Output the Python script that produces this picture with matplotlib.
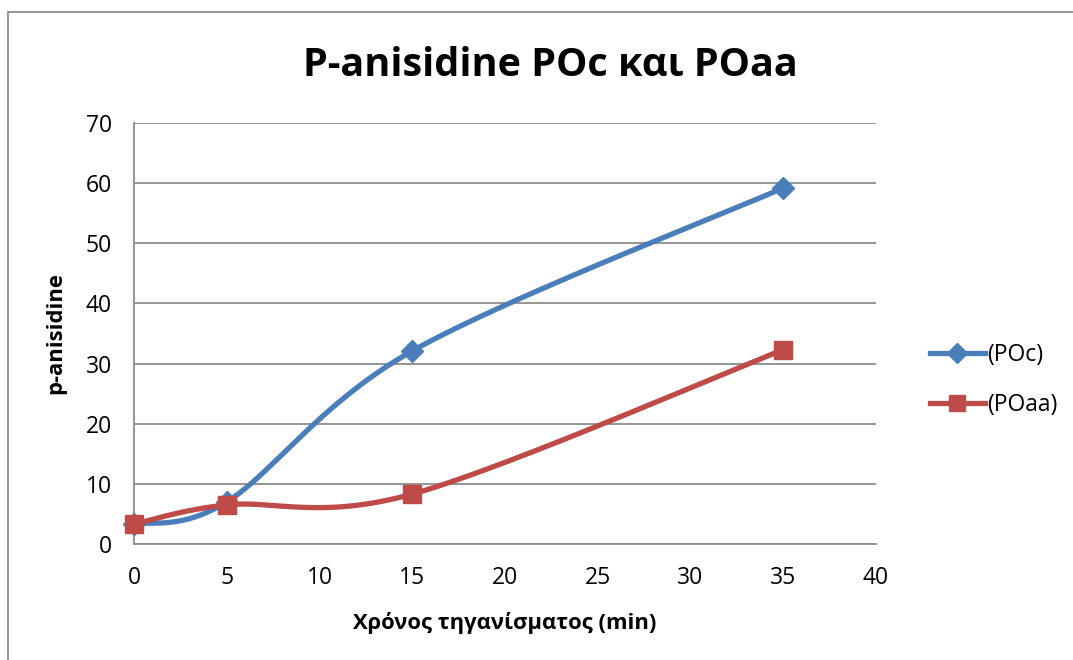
import numpy as np
import matplotlib
matplotlib.use("Agg")
import matplotlib.pyplot as plt
from matplotlib.patches import Rectangle
from matplotlib.lines import Line2D

plt.rcParams['font.family'] = ['Open Sans', 'DejaVu Sans']

# Frying time (min) and p-anisidine values
time_min = [0, 5, 15, 35]
poc = [3.3, 7.0, 32.1, 59.2]
poaa = [3.3, 6.5, 8.3, 32.3]

title = "P-anisidine POc και POaa"
xlabel = "Χρόνος τηγανίσματος (min)"
ylabel = "p-anisidine"
series_names = ["(POc)", "(POaa)"]
x_ticks = [0, 5, 10, 15, 20, 25, 30, 35, 40]
y_ticks = [0, 10, 20, 30, 40, 50, 60, 70]

BLUE = "#4a7ebb"
RED = "#be4b48"


def smooth_curve(ax, xs, ys, n=60):
    """Spreadsheet-style smoothed line: cubic Bezier segments with
    Catmull-Rom control points computed in display space."""
    pts = ax.transData.transform(np.column_stack([xs, ys]))
    m = len(pts)
    out = []
    for i in range(m - 1):
        p0 = pts[i - 1] if i > 0 else pts[i]
        p1 = pts[i]
        p2 = pts[i + 1]
        p3 = pts[i + 2] if i + 2 < m else pts[i + 1]
        c1 = p1 + (p2 - p0) / 6.0
        c2 = p2 - (p3 - p1) / 6.0
        t = np.linspace(0, 1, n)[:, None]
        seg = ((1 - t) ** 3) * p1 + 3 * ((1 - t) ** 2) * t * c1 \
            + 3 * (1 - t) * t ** 2 * c2 + t ** 3 * p2
        out.append(seg if i == 0 else seg[1:])
    disp = np.vstack(out)
    data = ax.transData.inverted().transform(disp)
    return data[:, 0], data[:, 1]


fig = plt.figure(figsize=(10.73, 6.6), dpi=100)
fig.patch.set_facecolor("white")

# chart area frame
W, H = 1073, 660
fig.patches.append(Rectangle((8 / W, -0.1), 1.2, (H - 12) / H + 0.1,
                             transform=fig.transFigure, fill=False,
                             edgecolor="#8c8c8c", linewidth=1.3))

ax = fig.add_axes([134 / W, 1 - 544 / H, (876 - 134) / W, (544 - 123) / H])
ax.set_xlim(0, 40)
ax.set_ylim(0, 70)
ax.set_xticks(x_ticks)
ax.set_yticks(y_ticks)
ax.tick_params(length=0, labelsize=16.5, colors="black")
ax.tick_params(axis="x", pad=16)
ax.tick_params(axis="y", pad=16)
for s in ["top", "right"]:
    ax.spines[s].set_visible(False)
for s in ["left", "bottom"]:
    ax.spines[s].set_color("#8c8c8c")
    ax.spines[s].set_linewidth(1.3)
ax.yaxis.grid(True, color="#8c8c8c", linewidth=1.3)
ax.set_axisbelow(True)

ax.figure.canvas.draw()

sx, sy = smooth_curve(ax, time_min, poc)
ax.plot(sx, sy, color=BLUE, linewidth=3.8, solid_capstyle="round", zorder=3)
ax.plot(time_min, poc, linestyle="none", marker="D", markersize=11,
        color=BLUE, zorder=4, clip_on=False)

sx, sy = smooth_curve(ax, time_min, poaa)
ax.plot(sx, sy, color=RED, linewidth=3.8, solid_capstyle="round", zorder=5)
ax.plot(time_min, poaa, linestyle="none", marker="s", markersize=13,
        color=RED, zorder=6, clip_on=False)

fig.text(550 / W, 1 - 66 / H, title, ha="center",
         va="center", fontsize=28.5, fontweight="bold")
ax.set_xlabel(xlabel, fontsize=15.8, fontweight="bold", labelpad=16)
ax.set_ylabel(ylabel, fontsize=15.8, fontweight="bold", labelpad=14)

handles = [
    Line2D([], [], color=BLUE, linewidth=3.8, marker="D", markersize=10),
    Line2D([], [], color=RED, linewidth=3.8, marker="s", markersize=12),
]
fig.legend(handles, series_names, loc="center left",
           bbox_to_anchor=(909 / W, 1 - 380 / H), frameon=False,
           fontsize=16.5, handlelength=2.4, handletextpad=0.1,
           labelspacing=1.1)

fig.savefig("out.png", dpi=100, facecolor="white")
